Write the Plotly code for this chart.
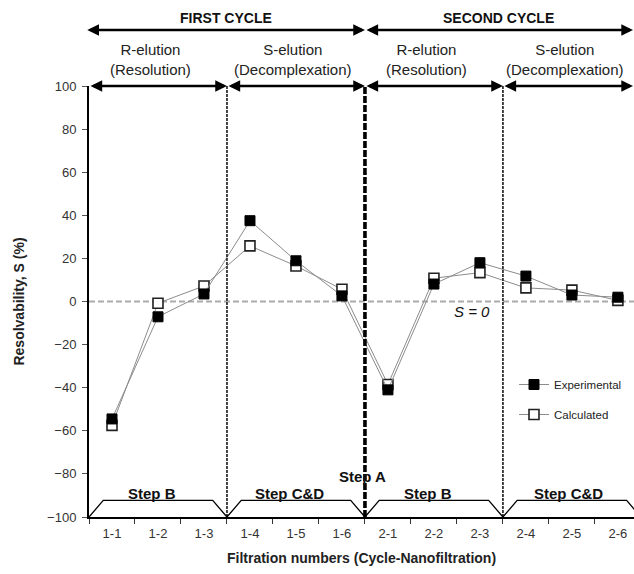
import plotly.graph_objects as go

# ---------------- data ----------------
categories = ["1-1", "1-2", "1-3", "1-4", "1-5", "1-6",
              "2-1", "2-2", "2-3", "2-4", "2-5", "2-6"]
experimental = [-54.5, -7.1, 3.5, 37.5, 18.9, 2.6, -41.0, 8.1, 18.0, 11.8, 3.0, 2.0]
calculated = [-57.5, -0.8, 7.2, 25.8, 16.5, 5.7, -38.5, 10.8, 13.4, 6.3, 5.3, 0.5]

cycle_labels = ["FIRST CYCLE", "SECOND CYCLE"]
phase_labels = ["R-elution<br>(Resolution)", "S-elution<br>(Decomplexation)",
                "R-elution<br>(Resolution)", "S-elution<br>(Decomplexation)"]
step_labels = ["Step B", "Step C&D", "Step B", "Step C&D"]

FONT = "Arial, 'Liberation Sans', sans-serif"
W, H = 634, 574
ML, MR, MT, MB = 89, 0, 86, 57
PW = W - ML - MR
PH = H - MT - MB
XR = [-0.5, 11.35]
NCAT = XR[1] - XR[0]


def px(idx):
    """category index -> paper x"""
    return (idx - XR[0]) / NCAT


def py(pix):
    """pixel row from top -> paper y"""
    return (H - MB - pix) / PH


fig = go.Figure()

# Calculated drawn first so Experimental sits on top (as in original)
fig.add_trace(go.Scatter(
    x=categories, y=calculated, name="Calculated", mode="lines+markers",
    line=dict(color="#8c8c8c", width=1),
    marker=dict(symbol="square", size=10, color="white",
                line=dict(color="#222222", width=1.6)),
    legendrank=2, legendgroup="calc"))
fig.add_trace(go.Scatter(
    x=categories, y=experimental, name="Experimental", mode="lines+markers",
    line=dict(color="#8c8c8c", width=1),
    marker=dict(symbol="square", size=10, color="black",
                line=dict(color="black", width=1)),
    legendrank=1, legendgroup="exp"))

shapes = []
# zero reference line
shapes.append(dict(type="line", xref="paper", yref="y", x0=0, x1=1, y0=0, y1=0,
                   line=dict(color="#ababab", width=2, dash="6px,3px"), layer="below"))
# section separators
sep = [(2.5, "3px,1px", 1.8, "#333333"), (5.5, "7px,2px", 3.6, "black"),
       (8.5, "3px,1px", 1.8, "#333333")]
for xb, dash, w, c in sep:
    shapes.append(dict(type="line", xref="x", yref="y", x0=xb, x1=xb, y0=-100, y1=100,
                       line=dict(color=c, width=w, dash=dash)))
# trapezoids at the bottom
for s in range(4):
    b0 = -0.5 + 3 * s
    b1 = b0 + 3
    path = f"M{b0},-100 L{b0 + 0.31},-92.3 L{b1 - 0.31},-92.3 L{b1},-100"
    shapes.append(dict(type="path", xref="x", yref="y", path=path,
                       line=dict(color="black", width=1.3)))

annotations = []
arrow_style = dict(text="", showarrow=True, arrowside="end+start",
                   arrowhead=2, startarrowhead=2, arrowsize=0.9, startarrowsize=0.9,
                   arrowwidth=2.6, arrowcolor="black", standoff=0, startstandoff=0,
                   axref="pixel", ayref="pixel", ay=0)
# double-headed arrows, level of y=100
for a, b in [(-0.5, 2.5), (2.5, 5.5), (5.5, 8.5), (8.5, 11.5)]:
    annotations.append(dict(xref="paper", yref="paper", x=px(b), y=1.0,
                            ax=-(px(b) - px(a)) * PW, **arrow_style))
# cycle arrows at top
for a, b in [(-0.57, 5.5), (5.5, 11.5)]:
    annotations.append(dict(xref="paper", yref="paper", x=px(b), y=py(30),
                            ax=-(px(b) - px(a)) * PW, **arrow_style))
# cycle labels
for lab, xc in zip(cycle_labels, [2.48, 8.4]):
    annotations.append(dict(xref="x", yref="paper", x=xc, y=py(18), text=f"<b>{lab}</b>",
                            xanchor="center", yanchor="middle", showarrow=False,
                            font=dict(family=FONT, size=14, color="#111111")))
# phase labels
for lab, xc in zip(phase_labels, [0.83, 3.93, 6.83, 9.86]):
    annotations.append(dict(xref="x", yref="paper", x=xc, y=py(59.5), text=lab,
                            xanchor="center", yanchor="middle", showarrow=False,
                            font=dict(family=FONT, size=15, color="#222222")))
# step labels
for lab, xc in zip(step_labels, [0.88, 3.87, 6.87, 9.93]):
    annotations.append(dict(xref="x", yref="y", x=xc, y=-89.1, text=f"<b>{lab}</b>",
                            xanchor="center", yanchor="middle", showarrow=False,
                            font=dict(family=FONT, size=15, color="#111111")))
annotations.append(dict(xref="x", yref="y", x=5.45, y=-81.3, text="<b>Step A</b>",
                        xanchor="center", yanchor="middle", showarrow=False,
                        font=dict(family=FONT, size=15, color="#111111")))
annotations.append(dict(xref="x", yref="y", x=7.83, y=-4.7, text="<i>S = 0</i>",
                        xanchor="center", yanchor="middle", showarrow=False,
                        font=dict(family=FONT, size=15, color="#111111")))

fig.update_layout(
    width=W, height=H,
    margin=dict(l=ML, r=MR, t=MT, b=MB),
    paper_bgcolor="white", plot_bgcolor="white",
    font=dict(family=FONT, color="#222222"),
    shapes=shapes, annotations=annotations,
    showlegend=True,
    legend=dict(x=(514 - ML) / PW, y=py(370), xanchor="left", yanchor="top",
                bgcolor="rgba(0,0,0,0)", tracegroupgap=11,
                font=dict(family=FONT, size=11.5, color="#222222")),
    xaxis=dict(type="category", range=XR, showgrid=False, zeroline=False,
               showline=True, linecolor="black", linewidth=1.5,
               ticks="outside", tickson="boundaries", ticklen=5, tickcolor="#333333",
               ticklabelstandoff=4,
               tickfont=dict(family=FONT, size=13, color="#333333"),
               title=dict(text="<b>Filtration numbers (Cycle-Nanofiltration)</b>",
                          font=dict(family=FONT, size=14, color="#222222"), standoff=13),
               automargin=False),
    yaxis=dict(range=[-100, 100], tickvals=list(range(-100, 101, 20)),
               showgrid=False, zeroline=False,
               showline=True, linecolor="black", linewidth=2,
               ticks="outside", ticklen=5, tickcolor="#555555",
               ticklabelstandoff=3,
               tickfont=dict(family=FONT, size=13, color="#333333"),
               title=dict(text="<b>Resolvability, S (%)</b>",
                          font=dict(family=FONT, size=14, color="#222222"), standoff=19),
               automargin=False),
)

fig.write_html("out.html",
               config={"displayModeBar": False},
               post_script="document.body.style.margin='0';document.body.style.overflow='hidden';")
